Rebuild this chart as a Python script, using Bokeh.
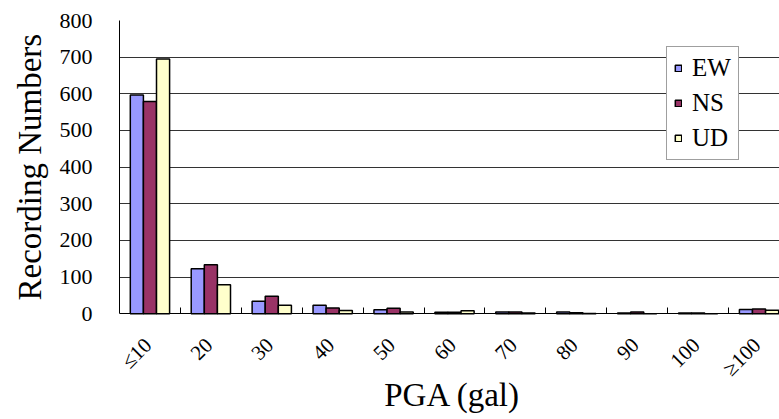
from bokeh.plotting import figure
from bokeh.models import (ColumnDataSource, Range1d, FixedTicker, Legend, LegendItem,
                          LabelSet, Label, Title)
from bokeh.transform import dodge
from bokeh.embed import file_html
from bokeh.resources import INLINE

categories = ["≤10", "20", "30", "40", "50", "60", "70", "80", "90", "100", "≥100"]
ew = [597, 123, 34, 23, 11, 4, 5, 5, 2, 2, 12]
ns = [579, 134, 48, 16, 15, 4, 5, 3, 5, 2, 13]
ud = [695, 79, 23, 9, 5, 8, 2, 1, 0, 0, 10]
y_ticks = [0, 100, 200, 300, 400, 500, 600, 700, 800]

FONT = "Liberation Serif"
idx = list(range(len(categories)))
src = ColumnDataSource(dict(x=idx, cat=categories, EW=ew, NS=ns, UD=ud))

# layout: plot area 20..313 px (0..800), frame continues down to hold the category labels
W, H = 779, 419
TOP, ZERO_PX = 20, 313.3
y_lo = -800 * (H - ZERO_PX) / (ZERO_PX - TOP)

p = figure(width=W, height=H,
           x_range=Range1d(-0.5, 10.336), y_range=Range1d(y_lo, 800),
           output_backend="svg", toolbar_location=None,
           min_border_left=118, min_border_right=0, min_border_top=TOP, min_border_bottom=0)
p.outline_line_color = None
p.background_fill_color = "white"

w = 0.215
r1 = p.vbar(x=dodge("x", -w, range=p.x_range), top="EW", width=w, source=src,
            fill_color="#9999FF", line_color="black", line_width=1.5)
r2 = p.vbar(x=dodge("x", 0, range=p.x_range), top="NS", width=w, source=src,
            fill_color="#993366", line_color="black", line_width=1.5)
r3 = p.vbar(x=dodge("x", w, range=p.x_range), top="UD", width=w, source=src,
            fill_color="#FFFFCC", line_color="black", line_width=1.5)

# x axis at value 0 with tick marks between the groups
p.xaxis.fixed_location = 0
p.xaxis.ticker = FixedTicker(ticks=[], minor_ticks=[i + 0.5 for i in idx])
p.xaxis.major_tick_in = 0
p.xaxis.major_tick_out = 0
p.xaxis.major_label_standoff = 0
p.xaxis.minor_tick_in = 6
p.xaxis.minor_tick_out = 0
p.xaxis.minor_tick_line_color = "black"
p.xaxis.axis_line_color = "black"

cat_labels = LabelSet(x="x", y=78, y_units="screen", text="cat", source=src,
                      x_offset=-2, angle=45, angle_units="deg", text_align="right",
                      text_baseline="middle", text_font=FONT, text_font_size="21px",
                      text_color="black")
p.add_layout(cat_labels)

xlabel = Label(x=333, y=25, x_units="screen", y_units="screen", text="PGA (gal)",
               text_align="center", text_baseline="middle", text_font=FONT,
               text_font_size="33px", text_color="black")
p.add_layout(xlabel)

# y axis
p.yaxis.bounds = (0, 800)
p.yaxis.ticker = FixedTicker(ticks=y_ticks)
p.yaxis.major_tick_in = 0
p.yaxis.major_tick_out = 0
p.yaxis.minor_tick_line_color = None
p.yaxis.axis_line_color = "black"
p.yaxis.major_label_standoff = 27
p.yaxis.major_label_text_font = FONT
p.yaxis.major_label_text_font_size = "22px"
p.yaxis.major_label_text_color = "black"

ytitle = Title(text="Recording Numbers", align="left", offset=119, standoff=18,
               text_font=FONT, text_font_size="33px", text_font_style="normal",
               text_color="black")
p.add_layout(ytitle, "left")

p.xgrid.grid_line_color = None
p.ygrid.grid_line_color = "#333333"
p.ygrid.grid_line_width = 1

legend = Legend(items=[LegendItem(label="EW", renderers=[r1]),
                       LegendItem(label="NS", renderers=[r2]),
                       LegendItem(label="UD", renderers=[r3])],
                location=(547, 259))
legend.label_text_font = FONT
legend.label_text_font_size = "25px"
legend.label_text_color = "black"
legend.glyph_width = 8
legend.glyph_height = 8
legend.label_standoff = 10
legend.padding = 7
legend.spacing = 7
legend.margin = 0
legend.border_line_color = "#404040"
legend.border_line_width = 1
legend.background_fill_color = "white"
legend.background_fill_alpha = 1
p.add_layout(legend)

open("out.html", "w").write(file_html(p, INLINE))
